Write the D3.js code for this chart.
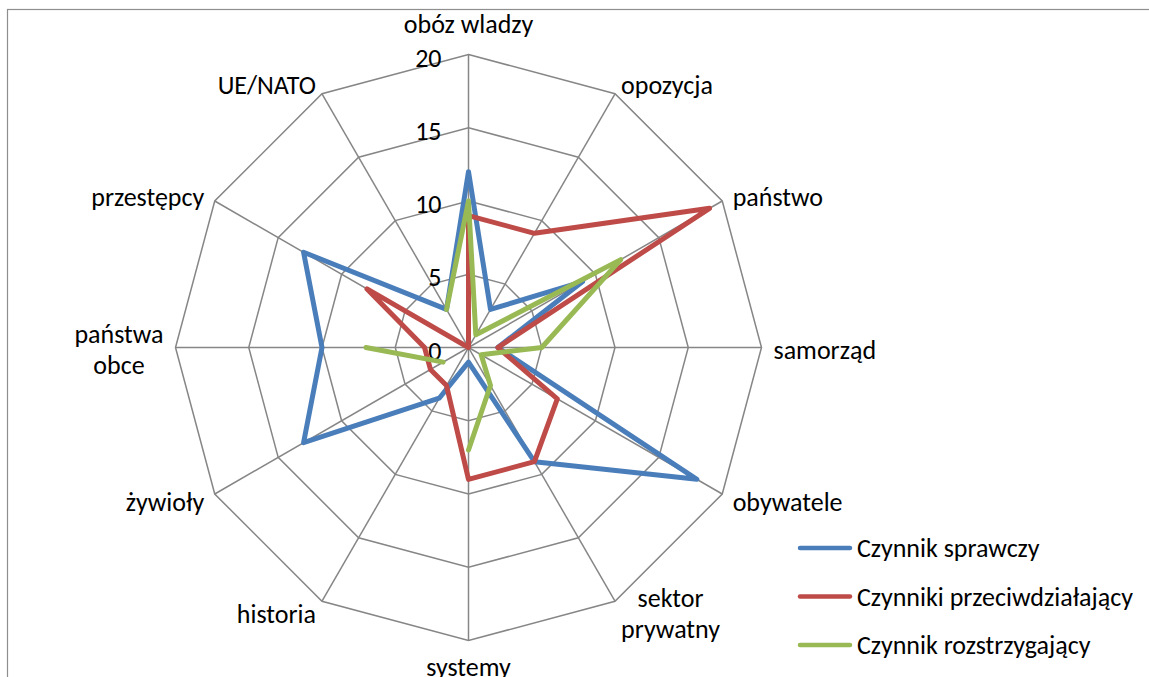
<!DOCTYPE html>
<html>
<head>
<meta charset="utf-8">
<script src="https://cdn.jsdelivr.net/npm/d3@7"></script>
<style>
  body { margin: 0; background: #fff; }
  svg { display: block; }
  text { font-family: Carlito, Lato, "Open Sans", sans-serif; fill: #000; }
</style>
</head>
<body>
<svg></svg>
<script>
const width = 1149;
const height = 677;

// categories clockwise from the top
const categories = ["obóz wladzy", "opozycja", "państwo", "samorząd", "obywatele", "sektor prywatny",
    "systemy", "historia", "żywioły", "państwa obce", "przestępcy", "UE/NATO"];
const seriesNames = ["Czynnik sprawczy", "Czynniki przeciwdziałający", "Czynnik rozstrzygający"];
const sprawczy = [12, 3, 9, 2, 18, 9, 1, 4, 13, 10, 13, 3];
const przeciwdzialajacy = [9, 9, 19, 2, 7, 9, 9, 3, 3, 3, 8, 0];
const rozstrzygajacy = [10, 1, 12, 5, 1, 3, 7, null, 2, 7, null, 3];
const ticks = [0, 5, 10, 15, 20];

const colors = ["#4a7ebb", "#be4b48", "#98b954"];
const cx = 468.5, cy = 347.5, radius = 293;
const fontSize = 26;

const svg = d3.select("svg")
    .attr("width", width)
    .attr("height", height);

// chart area border (right and bottom edges run off the page)
svg.append("rect")
    .attr("x", 7.5).attr("y", 9.5)
    .attr("width", 1200).attr("height", 700)
    .attr("fill", "none")
    .attr("stroke", "#8e8e8e")
    .attr("stroke-width", 1.2);

const r = d3.scaleLinear().domain([0, 20]).range([0, radius]);
const angle = d3.scaleLinear().domain([0, categories.length]).range([0, 2 * Math.PI]);

const g = svg.append("g").attr("transform", `translate(${cx},${cy})`);

// rings
const ring = d3.lineRadial()
    .angle((d, i) => angle(i))
    .radius(d => r(d))
    .curve(d3.curveLinearClosed);

g.selectAll(".ring")
    .data(ticks.filter(t => t > 0))
    .enter()
    .append("path")
    .attr("class", "ring")
    .attr("d", t => ring(categories.map(() => t)))
    .attr("fill", "none")
    .attr("stroke", "#868686")
    .attr("stroke-width", 1.5);

// spokes
g.selectAll(".spoke")
    .data(categories)
    .enter()
    .append("line")
    .attr("class", "spoke")
    .attr("x1", 0).attr("y1", 0)
    .attr("x2", (d, i) => r(20) * Math.sin(angle(i)))
    .attr("y2", (d, i) => -r(20) * Math.cos(angle(i)))
    .attr("stroke", "#868686")
    .attr("stroke-width", 1.5);

// tick labels
g.selectAll(".tick")
    .data(ticks)
    .enter()
    .append("text")
    .attr("class", "tick")
    .attr("x", -27)
    .attr("y", d => -r(d) + 3)
    .attr("dy", "0.35em")
    .attr("text-anchor", "end")
    .style("font-size", fontSize + "px")
    .text(d => d);

// category labels
const labelR = radius + 12;
const lineH = 31;
categories.forEach((name, i) => {
    const a = angle(i);
    const s = Math.sin(a), c = Math.cos(a);
    const x = labelR * s, y = -labelR * c;
    const words = name === "sektor prywatny" ? ["sektor", "prywatny"]
        : name === "państwa obce" ? ["państwa", "obce"] : [name];
    const t = g.append("text")
        .style("font-size", fontSize + "px")
        .attr("text-anchor", "middle");
    words.forEach((w, k) => {
        t.append("tspan").attr("x", 0).attr("y", k * lineH).text(w);
    });
    const bb = t.node().getBBox();
    let dx, dy;
    if (Math.abs(s) < 0.01) dx = 0;
    else if (s > 0) dx = bb.width / 2;
    else dx = -bb.width / 2;
    // vertical: block centered; top label sits above, bottom label hangs below
    const blockMid = bb.y + bb.height / 2;
    if (c > 0.99) dy = -(bb.y + bb.height) - 3;
    else if (c < -0.99) dy = -bb.y - 2;
    else dy = -blockMid + 2;
    t.attr("transform", `translate(${x + dx},${y + dy})`);
});

// series
const seriesData = [sprawczy, przeciwdzialajacy, rozstrzygajacy];
const radar = d3.lineRadial()
    .defined(d => d.v != null)
    .angle(d => angle(d.i))
    .radius(d => r(d.v));

g.selectAll(".series")
    .data(seriesData)
    .enter()
    .append("path")
    .attr("class", "series")
    .attr("d", vals => {
        const pts = vals.map((v, i) => ({ v: v, i: i }));
        pts.push({ v: vals[0], i: vals.length });
        return radar(pts);
    })
    .attr("fill", "none")
    .attr("stroke", (d, i) => colors[i])
    .attr("stroke-width", 5)
    .attr("stroke-linejoin", "round")
    .attr("stroke-linecap", "round");

// legend
const legend = svg.append("g").attr("transform", "translate(798,548)");
const item = legend.selectAll(".item")
    .data(seriesNames)
    .enter()
    .append("g")
    .attr("class", "item")
    .attr("transform", (d, i) => `translate(0,${i * 48.5})`);

item.append("line")
    .attr("x1", 2).attr("x2", 52)
    .attr("y1", 0).attr("y2", 0)
    .attr("stroke", (d, i) => colors[i])
    .attr("stroke-width", 4.5)
    .attr("stroke-linecap", "round");

item.append("text")
    .attr("x", 59)
    .attr("y", 0)
    .attr("dy", "0.35em")
    .style("font-size", fontSize + "px")
    .text(d => d);
</script>
</body>
</html>
